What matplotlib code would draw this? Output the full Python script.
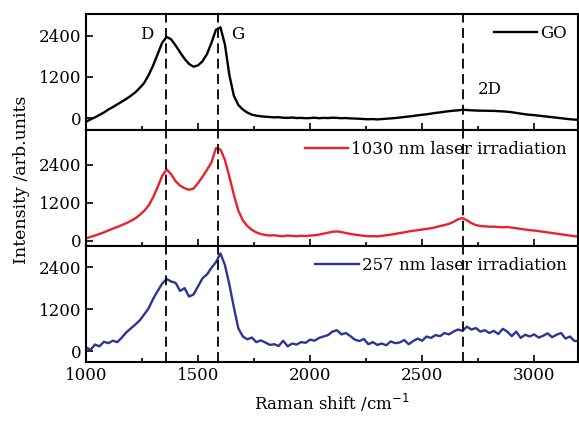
import numpy as np
import matplotlib
matplotlib.use("Agg")
import matplotlib.pyplot as plt
from matplotlib.ticker import MultipleLocator

# === Raman spectra (sampled every 20 cm^-1 from 1000 to 3200) ===
raman_shift = np.arange(1000, 3201, 20)

go = [
    -110, -40, 20, 90, 160, 250, 320, 400, 480, 560,
    650, 750, 880, 1030, 1260, 1540, 1870, 2200, 2370, 2300,
    2120, 1920, 1730, 1580, 1500, 1540, 1660, 1870, 2200, 2580,
    2650, 2150, 1250, 650, 380, 250, 160, 100, 70, 50,
    40, 30, 20, 25, 10, 5, 15, 0, 5, -5,
    0, 10, -5, 5, 0, 10, 5, -5, 0, -10,
    -15, -20, -30, -35, -30, -40, -30, -20, -10, 0,
    15, 30, 45, 60, 80, 95, 110, 130, 150, 165,
    185, 200, 215, 225, 240, 235, 225, 220, 215, 215,
    210, 210, 200, 195, 185, 170, 150, 130, 110, 95,
    85, 70, 55, 40, 25, 10, -5, -20, -35, -45,
    -55,
]

laser_1030 = [
    80, 130, 170, 220, 270, 330, 390, 440, 500, 560,
    630, 710, 820, 950, 1120, 1380, 1700, 2050, 2250, 2100,
    1880, 1740, 1660, 1610, 1650, 1820, 2020, 2240, 2470, 2920,
    2880, 2550, 2020, 1450, 950, 650, 470, 350, 270, 220,
    190, 170, 180, 160, 150, 170, 160, 150, 165, 155,
    170, 180, 200, 230, 260, 290, 300, 280, 250, 220,
    200, 180, 160, 150, 150, 145, 160, 180, 200, 220,
    250, 270, 300, 320, 340, 360, 380, 400, 430, 470,
    500, 540, 600, 680, 720, 650, 560, 500, 470, 460,
    450, 450, 440, 430, 440, 420, 400, 380, 360, 340,
    330, 310, 290, 270, 250, 230, 210, 190, 170, 150,
    140,
]

laser_257 = [
    110, 40, 190, 140, 270, 230, 300, 260, 390, 540,
    650, 760, 880, 1050, 1230, 1500, 1720, 1930, 2060, 1990,
    1950, 1720, 1800, 1560, 1620, 1850, 2080, 2190, 2380, 2540,
    2790, 2460, 1900, 1250, 650, 420, 340, 390, 260, 310,
    250, 180, 200, 150, 300, 140, 220, 190, 260, 240,
    330, 300, 380, 420, 460, 560, 600, 480, 520, 430,
    330, 290, 350, 200, 260, 180, 220, 170, 280, 230,
    250, 320, 200, 290, 360, 300, 420, 380, 460, 430,
    520, 480, 560, 620, 580, 700, 620, 660, 560, 600,
    520, 580, 490, 640, 560, 430, 560, 380, 470, 420,
    480, 390, 440, 510, 400, 470, 520, 360, 420, 290,
    300,
]

series = [go, laser_1030, laser_257]
labels = ["GO", "1030 nm laser irradiation", "257 nm laser irradiation"]
colors = ["black", "#e8232a", "#2c3594"]
ylims = [(-350, 3040), (-160, 3490), (-310, 3000)]

# D, G and 2D band positions
band_pos = [1355, 1588, 2683]

plt.rcParams["font.family"] = "DejaVu Serif"
plt.rcParams["font.size"] = 12

fig, axes = plt.subplots(3, 1, sharex=True, figsize=(5.79, 4.24), dpi=100,
                         gridspec_kw=dict(hspace=0))
fig.subplots_adjust(left=0.1485, right=0.998, top=0.967, bottom=0.146)

for ax, y, lab, col, yl in zip(axes, series, labels, colors, ylims):
    ax.plot(raman_shift, y, color=col, lw=1.7, label=lab)
    for b in band_pos:
        ax.axvline(b, color="black", lw=1.3, ls=(0, (5.5, 3)))
    ax.set_ylim(*yl)
    ax.set_xlim(1000, 3195)
    ax.set_yticks([0, 1200, 2400])
    ax.xaxis.set_major_locator(MultipleLocator(500))
    ax.xaxis.set_minor_locator(MultipleLocator(250))
    ax.tick_params(which="both", direction="in", top=False, right=False, width=1.2)
    ax.tick_params(which="major", length=5)
    ax.tick_params(which="minor", length=3)
    for sp in ax.spines.values():
        sp.set_linewidth(1.5)
    ax.legend(loc="upper right", frameon=False, handlelength=2.6,
              handletextpad=0.2, borderaxespad=0.25, fontsize=12)

# Band labels in the top panel
axes[0].text(1272, 2450, "D", ha="center", va="center")
axes[0].text(1678, 2450, "G", ha="center", va="center")
axes[0].text(2800, 820, "2D", ha="center", va="center")

axes[2].set_xlabel("Raman shift /cm$^{-1}$", labelpad=6)
fig.text(0.037, 0.575, "Intensity /arb.units", rotation=90, ha="center", va="center",
         fontsize=12.5)

fig.savefig("out.png", dpi=100)
